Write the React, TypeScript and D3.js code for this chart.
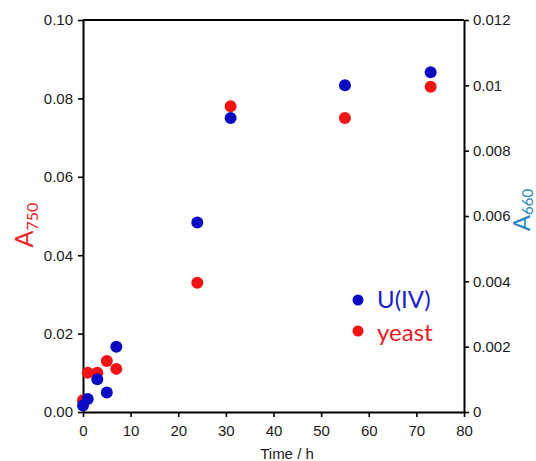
import { useEffect, useRef } from 'react';
import * as d3 from 'd3';

// sampling times (h)
const time = [0, 1, 3, 5, 7, 24, 31, 55, 73];
// A750, left axis
const yeast = [0.003, 0.01, 0.01, 0.013, 0.011, 0.033, 0.078, 0.075, 0.083];
// A660, right axis
const uranium = [0.0002, 0.0004, 0.001, 0.0006, 0.002, 0.0058, 0.009, 0.01, 0.0104];

const xTicks = [0, 10, 20, 30, 40, 50, 60, 70, 80];
const leftTicks = [0, 0.02, 0.04, 0.06, 0.08, 0.1];
const rightTicks = [0, 0.002, 0.004, 0.006, 0.008, 0.01, 0.012];

const legendItems = [
  { label: 'U(IV)', dot: '#0a0ac2', text: '#1c1cc4' },
  { label: 'yeast', dot: '#f21414', text: '#e41b23' },
];

const W = 536;
const H = 461;
const left = 83;
const right = 464;
const top = 20;
const bottom = 412;
const tickFont = '"Liberation Sans", Arial, sans-serif';
const labelFont = 'Lato, "Open Sans", sans-serif';

function App() {
  const svgRef = useRef<SVGSVGElement>(null);

  useEffect(() => {
    const svg = d3.select(svgRef.current);
    svg.selectAll('*').remove();

    const x = d3.scaleLinear().domain([0, 80]).range([left, right]);
    const yL = d3.scaleLinear().domain([0, 0.1]).range([bottom, top]);
    const yR = d3.scaleLinear().domain([0, 0.012]).range([bottom, top]);

    const styleAxis = g => {
      g.select('.domain').attr('stroke', '#000').attr('stroke-width', 2);
      g.selectAll('.tick line').attr('stroke', '#000').attr('stroke-width', 1.6);
      g.selectAll('.tick text')
        .attr('fill', '#1a1a1a')
        .style('font-family', tickFont)
        .style('font-size', '15px');
    };

    svg
      .append('g')
      .attr('transform', `translate(0,${bottom})`)
      .call(
        d3
          .axisBottom(x)
          .tickValues(xTicks)
          .tickSize(5)
          .tickSizeOuter(0)
          .tickPadding(8)
          .tickFormat(d3.format('d')),
      )
      .call(styleAxis);

    svg
      .append('g')
      .attr('transform', `translate(${left},0)`)
      .call(
        d3
          .axisLeft(yL)
          .tickValues(leftTicks)
          .tickSize(5)
          .tickSizeOuter(0)
          .tickPadding(5)
          .tickFormat(d3.format('.2f')),
      )
      .call(styleAxis);

    svg
      .append('g')
      .attr('transform', `translate(${right},0)`)
      .call(
        d3
          .axisRight(yR)
          .tickValues(rightTicks)
          .tickSize(5)
          .tickSizeOuter(0)
          .tickPadding(4)
          .tickFormat(d3.format('~g')),
      )
      .call(styleAxis);

    // top frame line
    svg
      .append('line')
      .attr('x1', left)
      .attr('x2', right)
      .attr('y1', top)
      .attr('y2', top)
      .attr('stroke', '#000')
      .attr('stroke-width', 2);

    svg
      .append('text')
      .attr('x', 287)
      .attr('y', 459)
      .attr('text-anchor', 'middle')
      .style('font-family', tickFont)
      .style('font-size', '15px')
      .attr('fill', '#1a1a1a')
      .text('Time / h');

    // y titles
    const leftTitle = svg
      .append('text')
      .attr('transform', 'translate(33,225) rotate(-90)')
      .attr('text-anchor', 'middle')
      .style('font-family', labelFont)
      .attr('fill', '#e8262a');
    leftTitle.append('tspan').style('font-size', '25px').text('A');
    leftTitle.append('tspan').style('font-size', '16px').attr('dy', 5).text('750');

    const rightTitle = svg
      .append('text')
      .attr('transform', 'translate(530,210) rotate(-90)')
      .attr('text-anchor', 'middle')
      .style('font-family', labelFont)
      .attr('fill', '#2a86c4');
    rightTitle.append('tspan').style('font-size', '24px').text('A');
    rightTitle.append('tspan').style('font-size', '15px').attr('dy', 3).text('660');

    // yeast first, U(IV) drawn on top
    svg
      .append('g')
      .selectAll('circle')
      .data(time)
      .join('circle')
      .attr('cx', d => x(d))
      .attr('cy', (_, i) => yL(yeast[i]))
      .attr('r', 6)
      .attr('fill', legendItems[1].dot);

    svg
      .append('g')
      .selectAll('circle')
      .data(time)
      .join('circle')
      .attr('cx', d => x(d))
      .attr('cy', (_, i) => yR(uranium[i]))
      .attr('r', 6)
      .attr('fill', legendItems[0].dot);

    const legend = svg
      .selectAll('.legend')
      .data(legendItems)
      .join('g')
      .attr('class', 'legend')
      .attr('transform', (_, i) => `translate(358, ${300 + i * 31})`);

    legend
      .append('circle')
      .attr('r', 5.5)
      .attr('fill', d => d.dot);

    legend
      .append('text')
      .attr('x', 19)
      .attr('y', (_, i) => (i === 0 ? 8 : 10))
      .style('font-family', labelFont)
      .style('font-size', '24px')
      .attr('fill', d => d.text)
      .text(d => d.label);
  }, []);

  return (
    <svg
      ref={svgRef}
      width={W}
      height={H}
      style={{ position: 'absolute', left: 0, top: 0, background: '#fff' }}
    />
  );
}

export default App;
